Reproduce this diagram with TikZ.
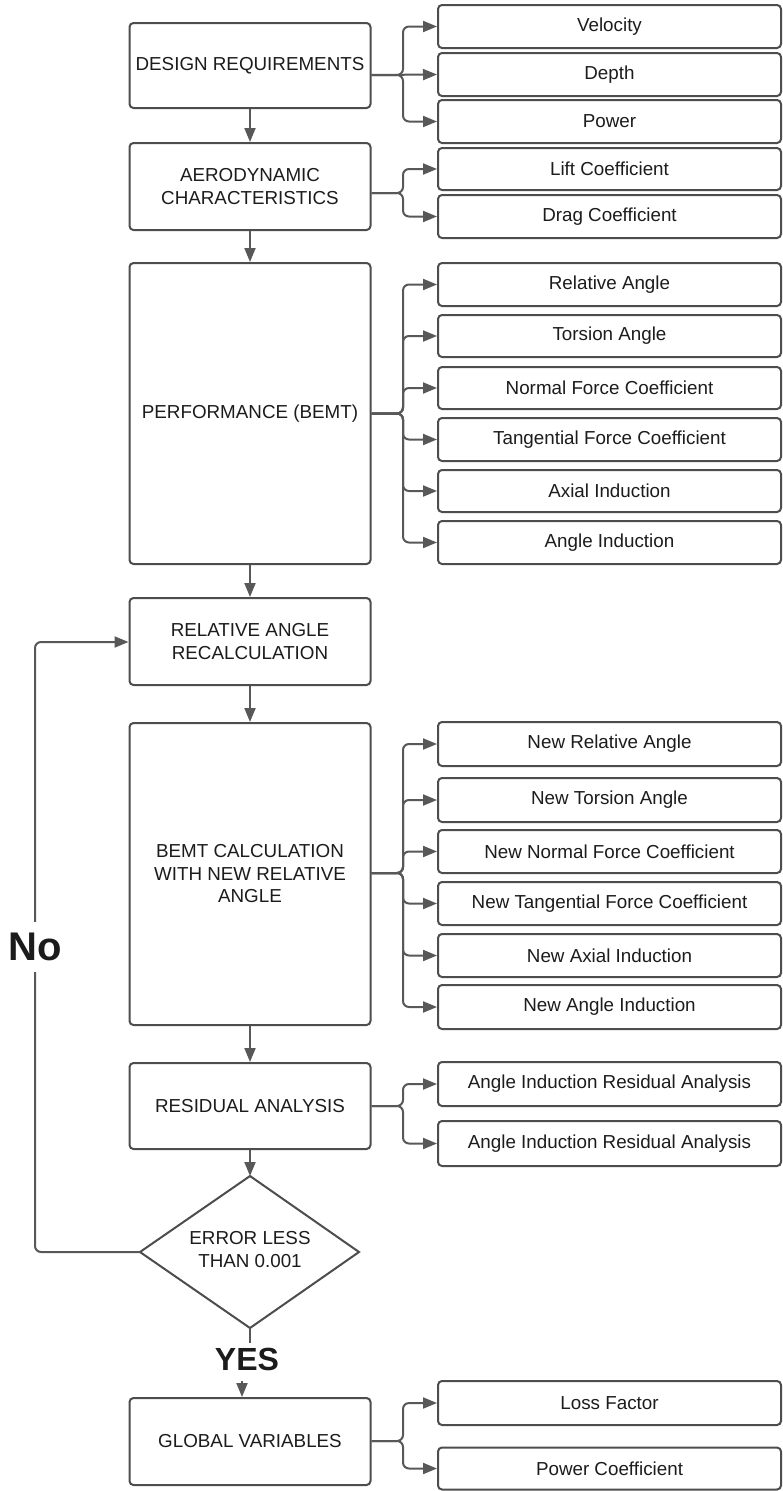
\documentclass[tikz,border=0pt]{standalone}
\usepackage{fontspec}
\setmainfont{Liberation Sans}
\usetikzlibrary{arrows.meta}
\definecolor{bordc}{HTML}{4D4D4D}
\definecolor{linec}{HTML}{585858}
\definecolor{txtc}{HTML}{1C1C1C}
\tikzset{
  base/.style={draw=bordc, line width=2pt, rounded corners=4pt, fill=white, text=txtc,
    font=\fontsize{18.8}{22.5}\selectfont, align=center, inner sep=2pt},
  lbox/.style={base, minimum width=241pt},
  rbox/.style={base, minimum width=343pt},
  conn/.style={draw=linec, line width=2pt},
  arrowc/.style={conn, -{Triangle[length=14pt,width=11pt]}},
  brace/.style={arrowc, rounded corners=6pt},
}
\begin{document}
\begin{tikzpicture}[x=1pt,y=-1pt]
\useasboundingbox[fill=white] (0,0) rectangle (782,1491);
% left column
\node[lbox, minimum height=85pt] (dr) at (250,65.5) {DESIGN REQUIREMENTS};
\node[lbox, minimum height=87pt] (ad) at (250,186.5) {AERODYNAMIC\\CHARACTERISTICS};
\node[lbox, minimum height=301pt] (perf) at (250,413.5) {PERFORMANCE (BEMT)};
\node[lbox, minimum height=87pt] (rar) at (250,641.5) {RELATIVE ANGLE\\RECALCULATION};
\node[lbox, minimum height=302pt] (bemt) at (250,874) {BEMT CALCULATION\\WITH NEW RELATIVE\\ANGLE};
\node[lbox, minimum height=86pt] (res) at (250,1106) {RESIDUAL ANALYSIS};
\node[lbox, minimum height=87pt] (glob) at (250,1441.5) {GLOBAL VARIABLES};
% diamond
\coordinate (dtop) at (250,1176);
\coordinate (dright) at (359,1252);
\coordinate (dbot) at (250,1328);
\coordinate (dleft) at (140,1252);
\draw[draw=bordc, line width=2pt, line join=miter] (dtop) -- (dright) -- (dbot) -- (dleft) -- cycle;
\node[text=txtc, font=\fontsize{18.8}{23}\selectfont, align=center] (dia) at (250,1250) {ERROR LESS\\THAN 0.001};
% right column
\node[rbox, minimum height=43pt] (vel) at (609.5,26.5) {Velocity};
\node[rbox, minimum height=43pt] (dep) at (609.5,74.5) {Depth};
\node[rbox, minimum height=43pt] (pow) at (609.5,121.5) {Power};
\node[rbox, minimum height=42pt] (lift) at (609.5,169) {Lift Coefficient};
\node[rbox, minimum height=43pt] (drag) at (609.5,216.5) {Drag Coefficient};
\node[rbox, minimum height=43pt] (ra) at (609.5,284.5) {Relative Angle};
\node[rbox, minimum height=42pt] (ta) at (609.5,336) {Torsion Angle};
\node[rbox, minimum height=42pt] (nf) at (609.5,388) {Normal Force Coefficient};
\node[rbox, minimum height=43pt] (tf) at (609.5,439.5) {Tangential Force Coefficient};
\node[rbox, minimum height=42pt] (ai) at (609.5,491) {Axial Induction};
\node[rbox, minimum height=43pt] (ang) at (609.5,542.5) {Angle Induction};
\node[rbox, minimum height=44pt] (nra) at (609.5,744) {New Relative Angle};
\node[rbox, minimum height=44pt] (nta) at (609.5,800) {New Torsion Angle};
\node[rbox, minimum height=43pt] (nnf) at (609.5,851.5) {New Normal Force Coefficient};
\node[rbox, minimum height=43pt] (ntf) at (609.5,903.5) {New Tangential Force Coefficient};
\node[rbox, minimum height=43pt] (nai) at (609.5,955.5) {New Axial Induction};
\node[rbox, minimum height=44pt] (nang) at (609.5,1007) {New Angle Induction};
\node[rbox, minimum height=44pt] (r1) at (609.5,1084) {Angle Induction Residual Analysis};
\node[rbox, minimum height=45pt] (r2) at (609.5,1143.5) {Angle Induction Residual Analysis};
\node[rbox, minimum height=44pt] (loss) at (609.5,1403) {Loss Factor};
\node[rbox, minimum height=42pt] (pc) at (609.5,1468.5) {Power Coefficient};
% main flow
\draw[arrowc] (dr) -- (ad);
\draw[arrowc] (ad) -- (perf);
\draw[arrowc] (perf) -- (rar);
\draw[arrowc] (rar) -- (bemt);
\draw[arrowc] (bemt) -- (res);
\draw[arrowc] (res) -- (dtop);
% yes
\coordinate (yend) at (250,1343);
\draw[conn] (dbot) -- (yend);
\node[text=txtc, font=\fontsize{32}{32}\selectfont\bfseries, inner sep=0pt] (yes) at (247,1359) {YES};
\coordinate (ystart) at (242,1381);
\draw[arrowc] (ystart) -- (ystart |- glob.north);
% no loop
\coordinate (lp1) at (35,1252);
\coordinate (lp2) at (35,642);
\draw[arrowc, rounded corners=6pt] (dleft) -- (lp1) -- (lp2) -- (rar.west |- lp2);
\node[fill=white, text=txtc, font=\fontsize{40}{40}\selectfont\bfseries, inner sep=0pt, minimum height=50pt, minimum width=56pt] (no) at (35,947) {No};
% braces
\coordinate (j1) at (403,75);
\draw[brace] (dr.east |- j1) -- (j1) |- (vel.west);
\draw[arrowc] (dr.east |- j1) -- (dep.west);
\draw[brace] (dr.east |- j1) -- (j1) |- (pow.west);
\coordinate (j2) at (403,193);
\draw[brace] (ad.east |- j2) -- (j2) |- (lift.west);
\draw[brace] (ad.east |- j2) -- (j2) |- (drag.west);
\coordinate (j3) at (403,413.5);
\foreach \t in {ra,ta,nf,tf,ai,ang} {\draw[brace] (perf.east |- j3) -- (j3) |- (\t.west);}
\coordinate (j4) at (403,873);
\foreach \t in {nra,nta,nnf,ntf,nai,nang} {\draw[brace] (bemt.east |- j4) -- (j4) |- (\t.west);}
\coordinate (j5) at (403,1106);
\foreach \t in {r1,r2} {\draw[brace] (res.east |- j5) -- (j5) |- (\t.west);}
\coordinate (j6) at (403,1441);
\foreach \t in {loss,pc} {\draw[brace] (glob.east |- j6) -- (j6) |- (\t.west);}
\end{tikzpicture}
\end{document}
